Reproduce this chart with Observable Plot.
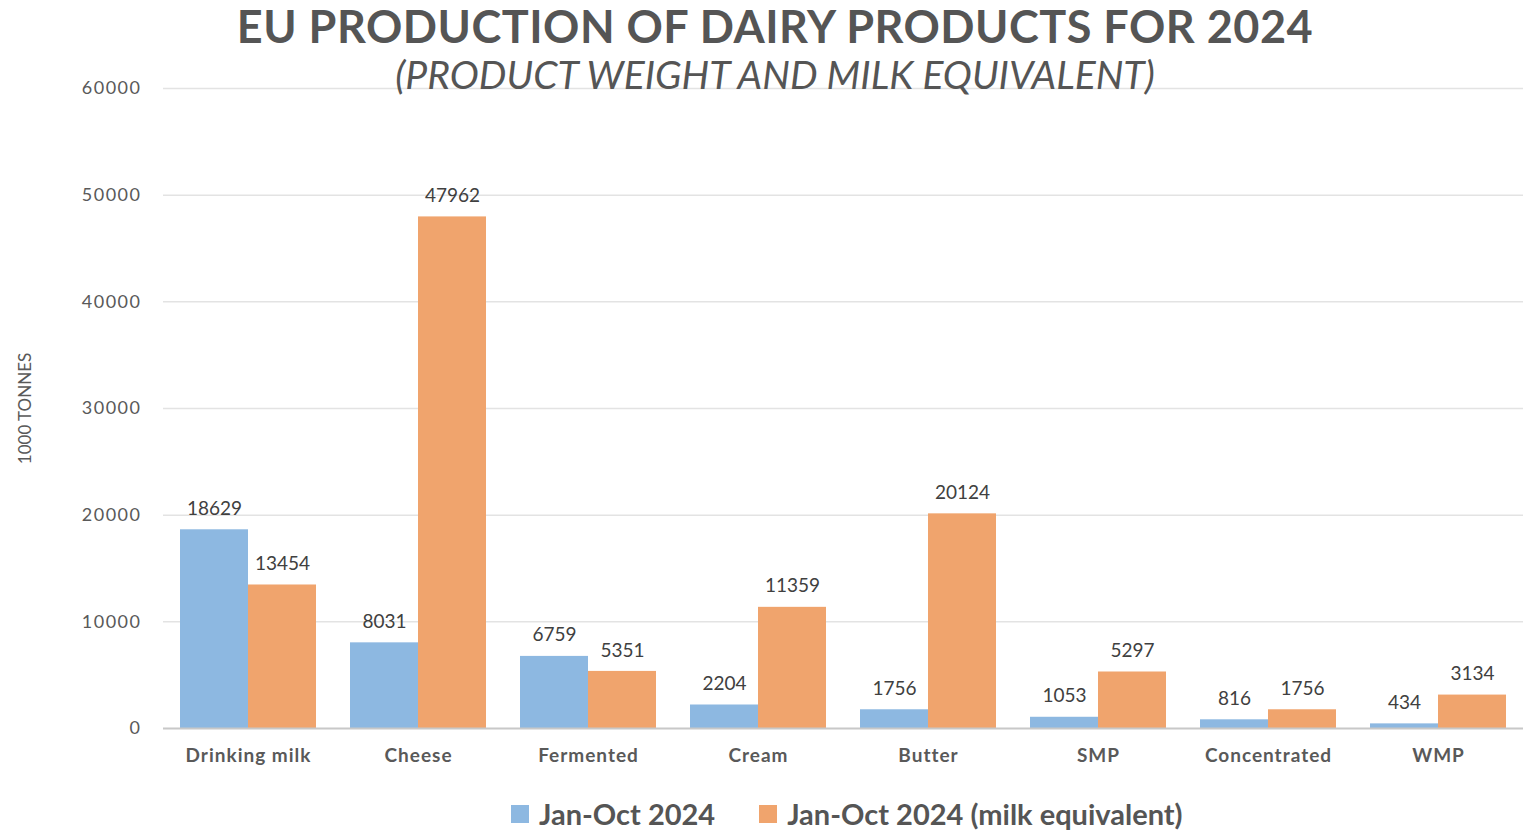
<!DOCTYPE html>
<html>
<head>
<meta charset="utf-8">
<script src="https://cdn.jsdelivr.net/npm/d3@7"></script>
<script src="https://cdn.jsdelivr.net/npm/@observablehq/plot@0.6"></script>
<style>
  html, body { margin: 0; padding: 0; background: #fff; }
  #wrap { position: relative; width: 1523px; height: 832px; font-family: Lato, "Open Sans", sans-serif; overflow: hidden; }
  #chart { position: absolute; left: 0; top: 0; }
  .title { position: absolute; left: 0; width: 1523px; box-sizing: border-box; padding-left: 27px; text-align: center; color: #555; line-height: 1.15; white-space: nowrap; }
  #t1 { top: 1px; font-size: 45px; font-weight: 700; letter-spacing: 0.5px; }
  #t2 { top: 52px; font-size: 39px; font-style: italic; letter-spacing: 0px; }
  #legend { position: absolute; top: 799px; left: 511px; display: flex; gap: 44px; font-size: 29px; line-height: 1.05; font-weight: 700; color: #555; }
  .sw { display: flex; align-items: center; gap: 10px; }
  .box { width: 18px; height: 18px; }
</style>
</head>
<body>
<div id="wrap">
  <div id="chart"></div>
  <div class="title" id="t1">EU PRODUCTION OF DAIRY PRODUCTS FOR 2024</div>
  <div class="title" id="t2">(PRODUCT WEIGHT AND MILK EQUIVALENT)</div>
  <div id="legend"></div>
</div>
<script>
const categories = ["Drinking milk", "Cheese", "Fermented", "Cream", "Butter", "SMP", "Concentrated", "WMP"];
const seriesNames = ["Jan-Oct 2024", "Jan-Oct 2024 (milk equivalent)"];
const productWeight = [18629, 8031, 6759, 2204, 1756, 1053, 816, 434];
const milkEquivalent = [13454, 47962, 5351, 11359, 20124, 5297, 1756, 3134];
const seriesColors = ["#8db8e1", "#f0a46d"];
const yTicks = [0, 10000, 20000, 30000, 40000, 50000, 60000];

const data = [];
categories.forEach((c, i) => {
  data.push({category: c, series: seriesNames[0], value: productWeight[i]});
  data.push({category: c, series: seriesNames[1], value: milkEquivalent[i]});
});

const chart = Plot.plot({
  width: 1523,
  height: 790,
  marginTop: 88,
  marginBottom: 62,
  marginLeft: 163,
  marginRight: 0,
  style: {fontFamily: "Lato, 'Open Sans', sans-serif", background: "transparent"},
  fx: {domain: categories, padding: 0, label: null},
  x: {domain: seriesNames, paddingInner: 0, paddingOuter: 0.25, axis: null},
  y: {domain: [0, 60000], ticks: yTicks, label: null},
  color: {domain: seriesNames, range: seriesColors},
  marks: [
    Plot.ruleY(yTicks.filter(d => d > 0), {stroke: "#e3e3e3", strokeWidth: 1.5, strokeOpacity: 1}),
    Plot.barY(data, {fx: "category", x: "series", y: "value", fill: "series"}),
    Plot.ruleY([0], {stroke: "#c8c8c8", strokeWidth: 2}),
    Plot.text(data, {fx: "category", x: "series", y: "value", text: d => String(d.value), dy: -21, fontSize: 19, fill: "#404040"}),
    Plot.axisY({ticks: yTicks, tickFormat: d3.format("d"), tickSize: 0, tickPadding: 22, fontSize: 18, color: "#595959", label: "1000 TONNES", labelAnchor: "center", labelOffset: 145, labelArrow: "none"}),
    Plot.axisFx({anchor: "bottom", tickSize: 0, tickPadding: 20, fontSize: 19, fontWeight: 700, color: "#595959", label: null})
  ]
});
document.getElementById("chart").appendChild(chart);

// fine styling of axis texts
chart.querySelectorAll("text").forEach(t => {
  if (t.textContent === "1000 TONNES") { t.setAttribute("font-size", "17"); t.setAttribute("fill", "#595959"); }
});
chart.querySelectorAll("g[aria-label='y-axis tick label'] text").forEach(t => t.setAttribute("letter-spacing", "1.5"));
chart.querySelectorAll("g[aria-label='fx-axis tick label'] text").forEach(t => t.setAttribute("letter-spacing", "1"));

const legend = document.getElementById("legend");
seriesNames.forEach((s, i) => {
  const item = document.createElement("div");
  item.className = "sw";
  const box = document.createElement("div");
  box.className = "box";
  box.style.background = seriesColors[i];
  const lab = document.createElement("span");
  lab.textContent = s;
  item.appendChild(box);
  item.appendChild(lab);
  legend.appendChild(item);
});
</script>
</body>
</html>
